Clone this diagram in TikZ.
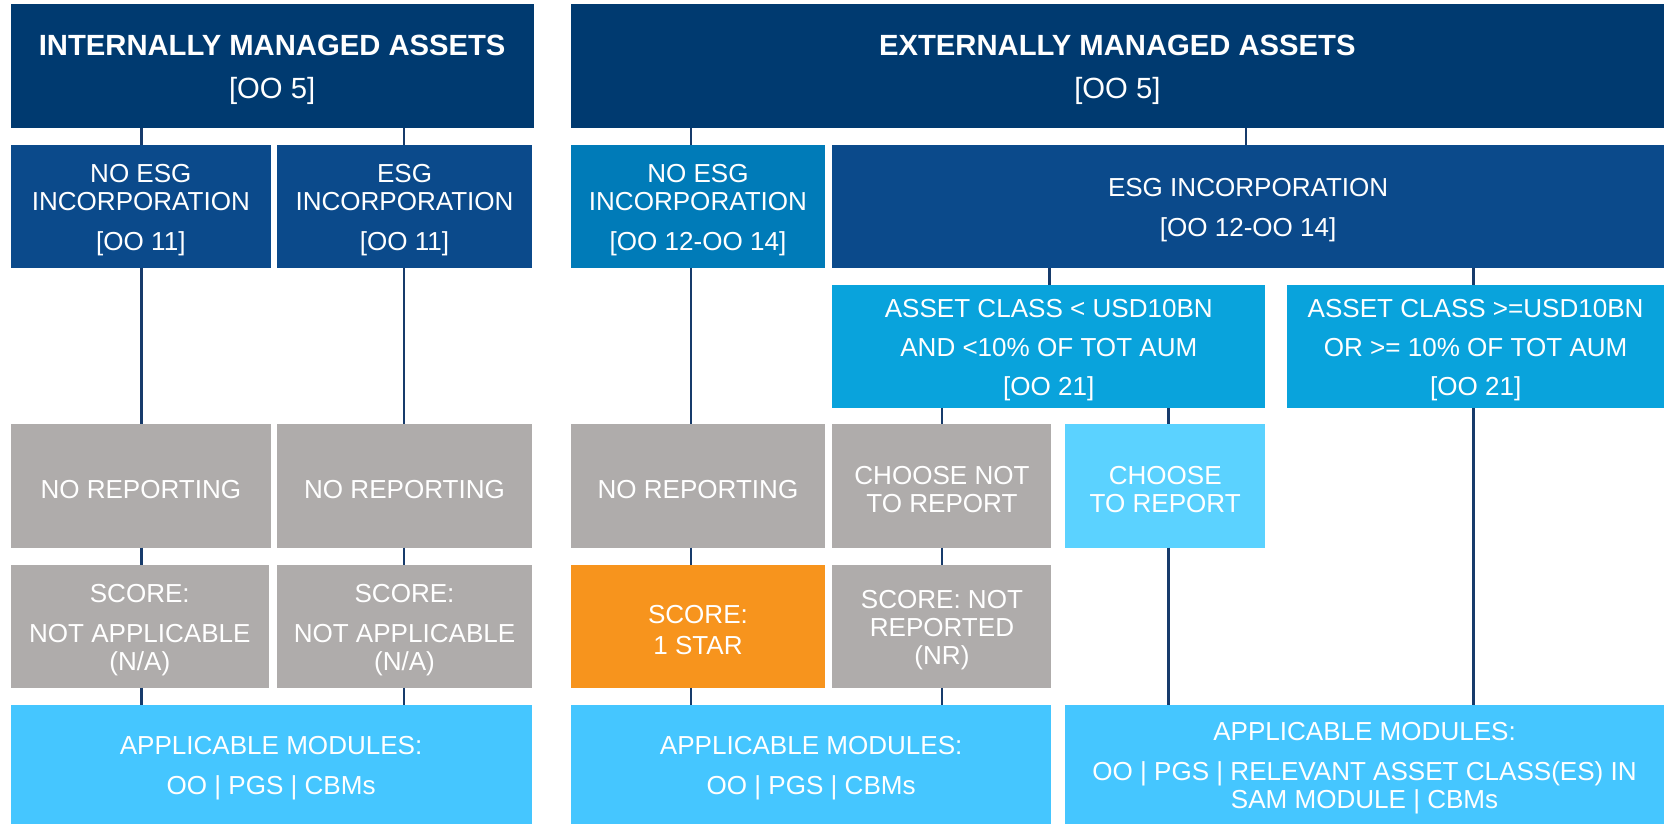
\documentclass[tikz,border=0pt]{standalone}
\usepackage{fontspec}
\setmainfont{Liberation Sans}
\definecolor{navy}{HTML}{003A70}
\definecolor{midnavy}{HTML}{0B4A8B}
\definecolor{medblue}{HTML}{007BB8}
\definecolor{cyanblue}{HTML}{09A3DC}
\definecolor{greybox}{HTML}{AFACAB}
\definecolor{lightblue}{HTML}{5BD2FF}
\definecolor{skyblue}{HTML}{45C6FF}
\definecolor{orangebox}{HTML}{F7941D}
\definecolor{linecol}{HTML}{173B6B}
\newcommand\bx[7]{\node[#6, minimum width={(#4-#2)*0.5pt}, minimum height={(#5-#3)*0.5pt}] (#1) at ({(#2+#4)/2},{(#3+#5)/2}) {};
  \node[#6, fill=none, yshift=-1.75pt] (#1-t) at (#1.center) {#7};}
\newcommand\pg{\\[5.75pt]}
\tikzset{
  base/.style={inner sep=0pt, outer sep=0pt, text=white, align=center, font=\fontsize{12.25}{13.25}\selectfont},
  titlebox/.style={base, fill=navy, font=\fontsize{13.75}{20}\selectfont},
  navybox/.style={base, fill=midnavy},
  medbox/.style={base, fill=medblue},
  cyanbox/.style={base, fill=cyanblue},
  greyb/.style={base, fill=greybox},
  lightb/.style={base, fill=lightblue},
  skyb/.style={base, fill=skyblue},
  orangeb/.style={base, fill=orangebox},
  conn/.style={draw=linecol, line width=1.1pt}
}
\begin{document}
\begin{tikzpicture}[x=0.5pt,y=-0.5pt]
\useasboundingbox (0,0) rectangle (1568,776);
% row 1
\bx{int}{10}{4}{502}{120}{titlebox}{{\bfseries INTERNALLY MANAGED ASSETS}\\{}[OO 5]}
\bx{ext}{537}{4}{1565}{120}{titlebox}{{\bfseries EXTERNALLY MANAGED ASSETS}\\{}[OO 5]}
% row 2
\bx{noesgi}{10}{136}{255}{252}{navybox}{NO ESG\\INCORPORATION\pg{}[OO 11]}
\bx{esgi}{261}{136}{500}{252}{navybox}{ESG\\INCORPORATION\pg{}[OO 11]}
\bx{noesgx}{537}{136}{776}{252}{medbox}{NO ESG\\INCORPORATION\pg{}[OO 12-OO 14]}
\bx{esgx}{783}{136}{1565}{252}{navybox}{ESG INCORPORATION\pg{}[OO 12-OO 14]}
% row 3
\bx{acl}{783}{268}{1190}{384}{cyanbox}{ASSET CLASS < USD10BN\\[5pt]AND <10\% OF TOT AUM\\[5pt][OO 21]}
\bx{acg}{1211}{268}{1565}{384}{cyanbox}{ASSET CLASS >=USD10BN\\[5pt]OR >= 10\% OF TOT AUM\\[5pt][OO 21]}
% row 4
\bx{nri}{10}{399}{255}{515}{greyb}{NO REPORTING}
\bx{nrii}{261}{399}{500}{515}{greyb}{NO REPORTING}
\bx{nrx}{537}{399}{776}{515}{greyb}{NO REPORTING}
\bx{cnr}{783}{399}{989}{515}{greyb}{CHOOSE NOT\\TO REPORT}
\bx{ctr}{1002}{399}{1190}{515}{lightb}{CHOOSE\\TO REPORT}
% row 5
\bx{snai}{10}{531}{253}{647}{greyb}{SCORE:\pg NOT APPLICABLE\\(N/A)}
\bx{snaii}{261}{531}{500}{647}{greyb}{SCORE:\pg NOT APPLICABLE\\(N/A)}
\bx{sone}{537}{531}{776}{647}{orangeb}{SCORE:\\[1.25pt]1 STAR}
\bx{snr}{783}{531}{989}{647}{greyb}{SCORE: NOT\\REPORTED\\(NR)}
% row 6
\bx{ami}{10}{663}{500}{775}{skyb}{APPLICABLE MODULES:\pg OO | PGS | CBMs}
\bx{amxi}{537}{663}{989}{775}{skyb}{APPLICABLE MODULES:\pg OO | PGS | CBMs}
\bx{amxii}{1002}{663}{1565}{775}{skyb}{APPLICABLE MODULES:\pg OO | PGS | RELEVANT ASSET CLASS(ES) IN\\SAM MODULE | CBMs}
% connector columns
\coordinate (ca) at (133,0);
\coordinate (cb) at (380,0);
\coordinate (cc) at (650,0);
\coordinate (cd) at (886,0);
\coordinate (ce) at (987,0);
\coordinate (cf) at (1099,0);
\coordinate (cg) at (1172,0);
\coordinate (ch) at (1386,0);
% internal
\draw[conn] (int.south -| ca) -- (noesgi.north -| ca);
\draw[conn] (int.south -| cb) -- (esgi.north -| cb);
\draw[conn] (noesgi.south -| ca) -- (nri.north -| ca);
\draw[conn] (esgi.south -| cb) -- (nrii.north -| cb);
\draw[conn] (nri.south -| ca) -- (snai.north -| ca);
\draw[conn] (nrii.south -| cb) -- (snaii.north -| cb);
\draw[conn] (snai.south -| ca) -- (ami.north -| ca);
\draw[conn] (snaii.south -| cb) -- (ami.north -| cb);
% external
\draw[conn] (ext.south -| cc) -- (noesgx.north -| cc);
\draw[conn] (ext.south -| cg) -- (esgx.north -| cg);
\draw[conn] (noesgx.south -| cc) -- (nrx.north -| cc);
\draw[conn] (nrx.south -| cc) -- (sone.north -| cc);
\draw[conn] (sone.south -| cc) -- (amxi.north -| cc);
\draw[conn] (esgx.south -| ce) -- (acl.north -| ce);
\draw[conn] (esgx.south -| ch) -- (acg.north -| ch);
\draw[conn] (acl.south -| cd) -- (cnr.north -| cd);
\draw[conn] (acl.south -| cf) -- (ctr.north -| cf);
\draw[conn] (cnr.south -| cd) -- (snr.north -| cd);
\draw[conn] (snr.south -| cd) -- (amxi.north -| cd);
\draw[conn] (ctr.south -| cf) -- (amxii.north -| cf);
\draw[conn] (acg.south -| ch) -- (amxii.north -| ch);
\end{tikzpicture}
\end{document}
